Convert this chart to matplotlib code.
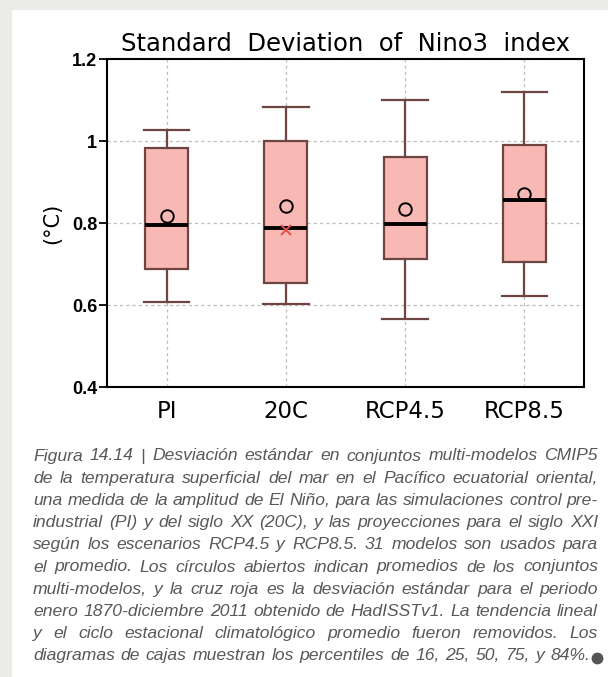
import matplotlib
matplotlib.use("Agg")
import matplotlib.pyplot as plt
from matplotlib.patches import Rectangle
from matplotlib.lines import Line2D

# data
labels = ["PI", "20C", "RCP4.5", "RCP8.5"]
p16 = [0.607, 0.602, 0.567, 0.623]
p25 = [0.687, 0.653, 0.713, 0.704]
p50 = [0.794, 0.788, 0.798, 0.855]
p75 = [0.983, 1.001, 0.962, 0.990]
p84 = [1.027, 1.082, 1.099, 1.119]
means = [0.818, 0.842, 0.833, 0.871]
obsLabel = "20C"
obsValue = 0.784

captionLines = [
	"Figura 14.14 | Desviación estándar en conjuntos multi-modelos CMIP5",
	"de la temperatura superficial del mar en el Pacífico ecuatorial oriental,",
	"una medida de la amplitud de El Niño, para las simulaciones control pre-",
	"industrial (PI) y del siglo XX (20C), y las proyecciones para el siglo XXI",
	"según los escenarios RCP4.5 y RCP8.5. 31 modelos son usados para",
	"el promedio. Los círculos abiertos indican promedios de los conjuntos",
	"multi-modelos, y la cruz roja es la desviación estándar para el periodo",
	"enero 1870-diciembre 2011 obtenido de HadISSTv1. La tendencia lineal",
	"y el ciclo estacional climatológico promedio fueron removidos. Los",
	"diagramas de cajas muestran los percentiles de 16, 25, 50, 75, y 84%.",
]

W, H = 608, 677
fig = plt.figure(figsize=(W / 100, H / 100), dpi=100, facecolor="white")

# grey page margin on the left and top
bg = "#ebebe7"
fig.patches.append(Rectangle((0, 0), 11 / W, 1, transform=fig.transFigure, color=bg, zorder=-10))
fig.patches.append(Rectangle((0, 1 - 9 / H), 1, 9 / H, transform=fig.transFigure, color=bg, zorder=-10))

ax = fig.add_axes([107 / W, 1 - 387 / H, 477 / W, 328 / H])

stats = []
for i in range(len(labels)):
	stats.append({"whislo": p16[i], "q1": p25[i], "med": p50[i], "q3": p75[i],
				  "whishi": p84[i], "mean": means[i], "fliers": []})

edge = "#6e4541"
positions = list(range(1, len(labels) + 1))
ax.bxp(stats, positions=positions, widths=0.36, patch_artist=True, showmeans=True,
	   boxprops=dict(facecolor="#f8b9b5", edgecolor=edge, linewidth=1.6),
	   whiskerprops=dict(color=edge, linewidth=1.6),
	   capprops=dict(color=edge, linewidth=1.6),
	   capwidths=0.38,
	   medianprops=dict(color="black", linewidth=2.8),
	   meanprops=dict(marker="o", markerfacecolor="none", markeredgecolor="black",
					  markersize=9, markeredgewidth=1.4),
	   zorder=3)

obsPos = positions[labels.index(obsLabel)]
ax.plot([obsPos], [obsValue], marker="x", color="#e2504c", markersize=7, markeredgewidth=1.4, zorder=5)

ax.set_xlim(0.5, 4.5)
ax.set_ylim(0.4, 1.2)
ax.set_yticks([0.4, 0.6, 0.8, 1.0, 1.2])
ax.set_yticklabels(["0.4", "0.6", "0.8", "1", "1.2"])
ax.set_xticks(positions)
ax.set_xticklabels(labels)
ax.grid(True, color="#bdbdbd", linestyle=(0, (2.5, 2.5)), linewidth=0.9, zorder=0)
ax.set_axisbelow(True)

for s in ax.spines.values():
	s.set_linewidth(1.5)
ax.tick_params(axis="x", length=0, pad=9, labelsize=16.5)
ax.tick_params(axis="y", length=6, width=1.3, pad=1, labelsize=13)
for t in ax.get_yticklabels():
	t.set_family("Liberation Sans")
	t.set_weight("bold")

ax.set_title("Standard  Deviation  of  Nino3  index", fontsize=17.5, pad=6)
ax.set_ylabel("(°C)", fontsize=15, labelpad=7)

# justified caption
fig.canvas.draw()
renderer = fig.canvas.get_renderer()
capProps = dict(family="Liberation Sans", style="italic", fontsize=12.6, color="#585858", va="center", ha="left")

def textWidth(s):
	t = fig.text(0, 0, s, **capProps)
	w = t.get_window_extent(renderer).width
	t.remove()
	return w

spaceW = textWidth("a a") - 2 * textWidth("a")
left, right = 33, 598
top, step = 456, 22.2
for li, line in enumerate(captionLines):
	words = line.split(" ")
	widths = [textWidth(w) for w in words]
	if li < len(captionLines) - 1:
		gap = (right - left - sum(widths)) / (len(words) - 1)
	else:
		gap = (590 - left - sum(widths)) / (len(words) - 1)
	x = left
	y = 1 - (top + li * step) / H
	for w, ww in zip(words, widths):
		fig.text(x / W, y, w, **capProps)
		x += ww + gap
	if li == len(captionLines) - 1:
		fig.add_artist(Line2D([(x - gap + 7) / W], [y - 2 / H], marker="o", markersize=7.5,
							  color="#555555", transform=fig.transFigure))

fig.savefig("out.png", dpi=100, facecolor="white")
